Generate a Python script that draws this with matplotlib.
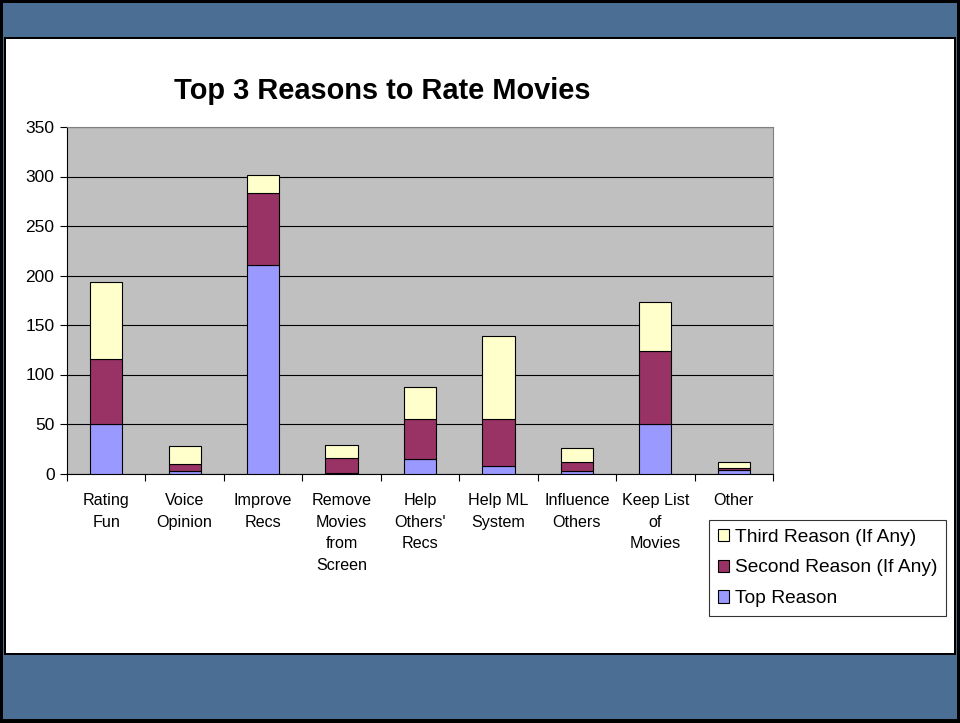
import numpy as np
import matplotlib
matplotlib.use('Agg')
import matplotlib.pyplot as plt
from matplotlib.patches import Rectangle

plt.rcParams['font.family'] = ['Liberation Sans', 'DejaVu Sans']

# Dados
categorias = ['Rating\nFun', 'Voice\nOpinion', 'Improve\nRecs', 'Remove\nMovies\nfrom\nScreen',
              "Help\nOthers'\nRecs", 'Help ML\nSystem', 'Influence\nOthers', 'Keep List\nof\nMovies', 'Other']
top_reason = [50, 3, 211, 1, 15, 8, 3, 50, 4]
second_reason = [66, 7, 72, 15, 40, 47, 9, 74, 2]
third_reason = [77, 18, 19, 13, 32, 84, 14, 49, 6]

fig = plt.figure(figsize=(9.6, 7.23), dpi=100)

# Moldura (estilo slide)
W, H = 960, 723
def px(x, y, w, h, **kw):
    fig.patches.append(Rectangle((x / W, 1 - (y + h) / H), w / W, h / H,
                                 transform=fig.transFigure, zorder=-10, **kw))
px(0, 0, 960, 723, facecolor='black', edgecolor='none')
px(3, 3, 954, 716, facecolor='#4b6e94', edgecolor='none')
px(4, 37, 952, 618, facecolor='black', edgecolor='none')
px(6, 39, 948, 614, facecolor='white', edgecolor='none')

ax = fig.add_axes([67 / W, 1 - 473.5 / H, (773 - 67) / W, (473.5 - 127) / H])
ax.set_facecolor('#c0c0c0')

x = np.arange(len(categorias))
w = 0.41
b2 = np.array(top_reason)
b3 = b2 + np.array(second_reason)
ax.bar(x, top_reason, w, color='#9999ff', edgecolor='black', linewidth=0.8, label='Top Reason', zorder=3)
ax.bar(x, second_reason, w, bottom=b2, color='#993366', edgecolor='black', linewidth=0.8,
       label='Second Reason (If Any)', zorder=3)
ax.bar(x, third_reason, w, bottom=b3, color='#ffffcc', edgecolor='black', linewidth=0.8,
       label='Third Reason (If Any)', zorder=3)

ax.set_xlim(-0.5, len(categorias) - 0.5)
ax.set_ylim(0, 350)
ax.set_yticks(range(0, 351, 50))
ax.yaxis.grid(True, color='black', linewidth=0.8, zorder=1)
ax.set_axisbelow(True)
ax.tick_params(axis='y', direction='out', length=5, width=0.8, labelsize=12.5, pad=4)

ax.set_xticks(x)
ax.set_xticklabels(categorias, fontsize=11.6, linespacing=1.55)
ax.tick_params(axis='x', which='major', length=0, pad=14)
ax.set_xticks(np.arange(-0.5, len(categorias) - 0.4, 1), minor=True)
ax.tick_params(axis='x', which='minor', direction='out', length=5, width=0.8)

for s in ['top', 'right']:
    ax.spines[s].set_color('#808080')
for s in ['left', 'bottom']:
    ax.spines[s].set_color('black')

fig.text(382 / W, 1 - 91 / H, 'Top 3 Reasons to Rate Movies', ha='center', va='center',
         fontsize=20.9, fontweight='bold')

h, l = ax.get_legend_handles_labels()
leg = fig.legend(h[::-1], l[::-1], loc='upper left', bbox_to_anchor=(709 / W, 1 - 520 / H),
                 fontsize=13.8, frameon=True, fancybox=False, edgecolor='black',
                 handlelength=0.6, handleheight=0.6, handletextpad=0.3, borderpad=0.45,
                 labelspacing=0.72, borderaxespad=0)
leg.get_frame().set_linewidth(0.8)

fig.savefig('out.png', dpi=100)
